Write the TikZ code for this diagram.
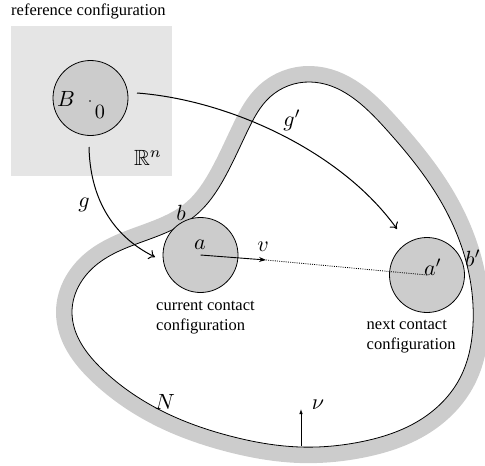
\documentclass[tikz,border=0pt]{standalone}
\usepackage{amssymb}
\usepackage{fontspec}
\newfontfamily\lab{Liberation Serif}
\usetikzlibrary{arrows.meta,hobby}
\definecolor{sqgray}{HTML}{E5E5E5}
\definecolor{ballgray}{HTML}{CCCCCC}
\definecolor{bandgray}{HTML}{CCCCCC}
\begin{document}
\begin{tikzpicture}[x=1pt,y=-1pt,
  ball/.style={circle, draw, line width=0.8pt, fill=ballgray, minimum size=75pt, inner sep=0pt},
  mlab/.style={inner sep=0pt, scale=2.2},
  tlab/.style={inner sep=0pt, anchor=base west, font=\lab\fontsize{16.5}{20}\selectfont},
  maparrow/.style={line width=1pt, -{To[length=6pt,width=10pt]}},
  regionline/.style={line width=0.8pt, fill=white, preaction={draw=bandgray, line width=32pt, line join=round}}
  ]
\useasboundingbox (0,0) rectangle (485,466);
% reference square
\fill[sqgray] (11,26) rectangle (172,176);
\node[tlab] (reftxt) at (11,15.5) {reference configuration};
% region N
\draw[regionline, use Hobby shortcut, closed=true]
  (310,82) .. (385,128) .. (440,200) .. (467,265) .. (473,325) ..
  (460,378) .. (420,420) .. (360,442) .. (300,447) .. (230,436) ..
  (160,410) .. (103,370) .. (72,312) .. (95,266) .. (150,239) ..
  (196,215) .. (225,177) .. (248,130) .. (270,97);
% balls
\node[ball] (B) at (90.5,98) {};
\node[ball] (cur) at (200.5,255) {};
\node[ball] (nxt) at (427,275) {};
% labels in reference
\node[mlab] (Blab) at (66,99) {$B$};
\fill (90,101) circle (0.9pt);
\node[mlab, scale=0.92] (zero) at (100,112) {$0$};
\node[mlab] (Rn) at (148,158) {$\mathbb{R}^n$};
% maps
\coordinate (gs) at (89,147);
\coordinate (ge) at (155,257);
\draw[maparrow] (gs) .. controls (90,195) and (110,235) .. (ge);
\coordinate (hs) at (137,93);
\coordinate (he) at (397,229);
\draw[maparrow] (hs) .. controls (230,100) and (342,152) .. (he);
\node[mlab] (glab) at (84,205) {$g$};
\node[mlab] (gplab) at (292,120) {$g'$};
% velocity
\coordinate (vtip) at (266,260);
\draw[line width=0.9pt, -{Stealth[length=7pt,width=5pt]}] (cur.center) -- (vtip);
\draw[line width=0.8pt, dash pattern=on 1pt off 1.2pt] (vtip) -- (nxt.center);
% normal
\coordinate (nubase) at (301,446);
\coordinate (nutip) at (301,409);
\draw[line width=0.8pt, -{Latex[length=5pt,width=3.5pt]}] (nubase) -- (nutip);
% point labels
\node[mlab] (alab) at (200,245) {$a$};
\node[mlab] (vlab) at (263,247) {$v$};
\node[mlab] (aplab) at (433,267) {$a'$};
\node[mlab] (blab) at (181,213) {$b$};
\node[mlab] (bplab) at (473,258) {$b'$};
\node[mlab] (Nlab) at (165,402) {$N$};
\node[mlab] (nulab) at (318,405) {$\nu$};
% captions
\node[tlab] (cur1) at (156,310) {current contact};
\node[tlab] (cur2) at (156,330) {configuration};
\node[tlab] (nxt1) at (366.5,329) {next contact};
\node[tlab] (nxt2) at (366.5,349) {configuration};
\end{tikzpicture}
\end{document}
